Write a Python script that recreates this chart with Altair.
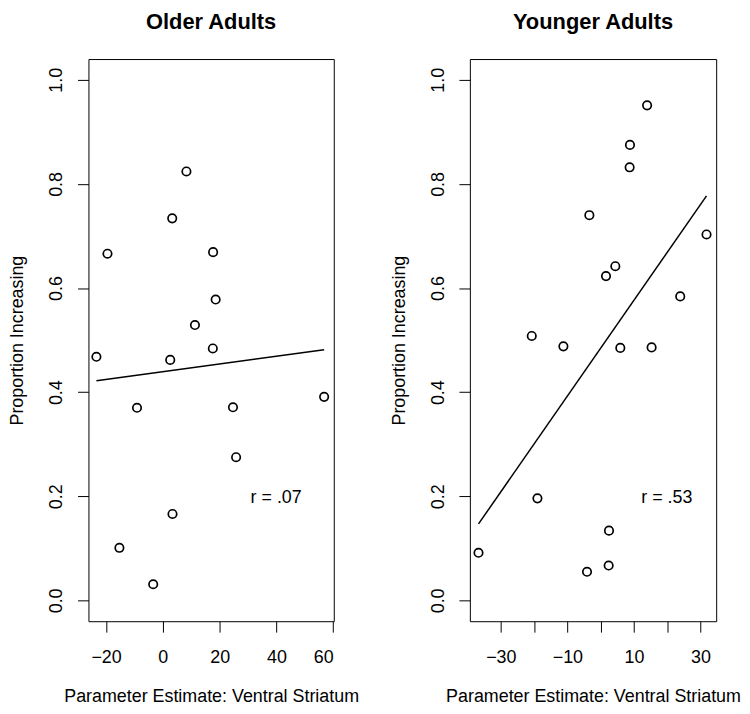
import altair as alt
import pandas as pd

# ---- data ----
older_x = [-23.4, -19.5, -15.3, -9.1, -3.4, 2.6, 3.3, 3.4, 8.3, 11.3, 17.6, 17.7, 18.6, 24.7, 25.8, 56.8]
older_y = [0.468, 0.666, 0.101, 0.370, 0.031, 0.462, 0.734, 0.166, 0.824, 0.529, 0.484, 0.669, 0.578, 0.371, 0.275, 0.391]

younger_x = [-36.7, -20.7, -19.0, -11.2, -4.1, -3.4, 1.6, 2.4, 2.5, 4.4, 5.9, 8.7, 8.8, 13.95, 15.3, 23.9, 31.8]
younger_y = [0.0915, 0.508, 0.196, 0.488, 0.055, 0.740, 0.623, 0.067, 0.134, 0.642, 0.485, 0.832, 0.875, 0.951, 0.486, 0.584, 0.703]

panel_titles = ["Older Adults", "Younger Adults"]
r_labels = ["r = .07", "r = .53"]
x_title = "Parameter Estimate: Ventral Striatum"
y_title = "Proportion Increasing"
y_ticks = [0.0, 0.2, 0.4, 0.6, 0.8, 1.0]
older_x_ticks = [-20, 0, 20, 40, 60]
younger_x_ticks = [-30, -20, -10, 0, 10, 20, 30]

FONT = "Liberation Sans"
PLOT_H = 566


def panel(xs, ys, title, rlab, xdomain, xticks, rpos, width, label_expr=None):
    df = pd.DataFrame({"x": xs, "y": ys})
    xaxis = dict(values=xticks, title=x_title, labelPadding=17,
                 titleX=width / 2, titleY=76, titleBaseline="middle", titleAlign="center")
    if label_expr:
        xaxis["labelExpr"] = label_expr
    x = alt.X("x:Q", scale=alt.Scale(domain=xdomain, nice=False, zero=False),
              axis=alt.Axis(**xaxis))
    y = alt.Y("y:Q", scale=alt.Scale(domain=[-0.04, 1.04], nice=False, zero=False),
              axis=alt.Axis(values=y_ticks, format=".1f", title=y_title,
                            labelAngle=270, labelAlign="center", labelBaseline="alphabetic",
                            labelPadding=16, titleX=-71, titleY=PLOT_H / 2,
                            titleAngle=270, titleAlign="center", titleBaseline="middle"))
    base = alt.Chart(df)
    pts = base.mark_point(shape="circle", filled=False, size=72, strokeWidth=1.7,
                          color="black", opacity=1).encode(x=x, y=y)
    line = base.transform_regression("x", "y").mark_line(
        color="black", strokeWidth=1.5).encode(x="x:Q", y="y:Q")
    txt = alt.Chart(pd.DataFrame({"label": [rlab]})).mark_text(
        align="left", baseline="middle", fontSize=18, font=FONT, color="black"
    ).encode(x=alt.datum(rpos[0]), y=alt.datum(rpos[1]), text="label:N")
    return alt.layer(pts, line, txt).properties(
        width=width, height=PLOT_H,
        title=alt.TitleParams(title, fontSize=22, fontWeight="bold", font=FONT,
                              anchor="middle", frame="group", offset=25, color="black"))


left = panel(older_x, older_y, panel_titles[0], r_labels[0], [-26.2, 60.2],
             older_x_ticks, (30.9, 0.197), 247)
right = panel(younger_x, younger_y, panel_titles[1], r_labels[1], [-39.3, 34.7],
              younger_x_ticks, (12.2, 0.197), 248,
              label_expr="datum.value % 20 != 0 ? datum.label : ''")

chart = alt.hconcat(left, right, spacing=137, bounds="flush").properties(
    padding=0, background="white"
).configure_view(stroke="black", strokeWidth=1).configure_axis(
    domain=False, grid=False, tickColor="black", tickSize=11, tickWidth=1,
    labelFont=FONT, labelFontSize=18, labelColor="black",
    titleFont=FONT, titleFontSize=18, titleFontWeight="normal", titleColor="black"
)

chart.save("out.html", embed_options={"renderer": "svg", "actions": False})
